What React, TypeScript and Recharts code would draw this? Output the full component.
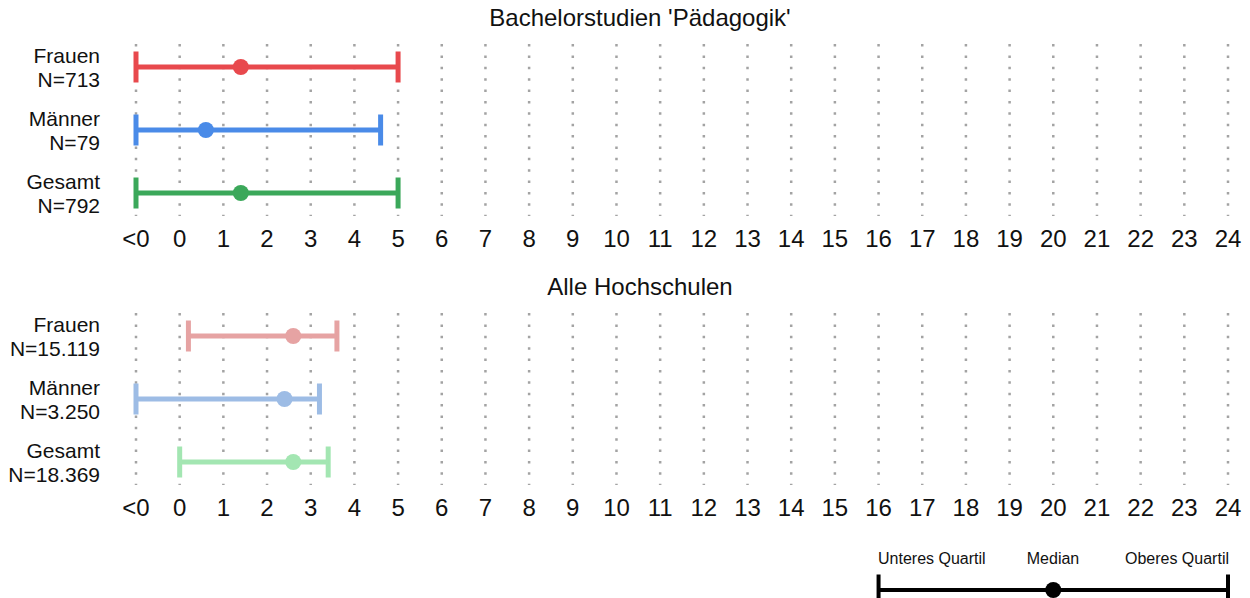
import React from "react";
import { ScatterChart, Scatter, XAxis, YAxis, CartesianGrid, ErrorBar } from "recharts";

const groups = ["Frauen", "Männer", "Gesamt"];
const topCounts = ["N=713", "N=79", "N=792"];
const bottomCounts = ["N=15.119", "N=3.250", "N=18.369"];

const topLow = [-1, -1, -1];
const topMedian = [1.4, 0.6, 1.4];
const topHigh = [5, 4.6, 5];

const bottomLow = [0.2, -1, 0];
const bottomMedian = [2.6, 2.4, 2.6];
const bottomHigh = [3.6, 3.2, 3.4];

const xTicks = [-1, 0, 1, 2, 3, 4, 5, 6, 7, 8, 9, 10, 11, 12, 13, 14, 15, 16, 17, 18, 19, 20, 21, 22, 23, 24];
const xTickLabels = ["<0", "0", "1", "2", "3", "4", "5", "6", "7", "8", "9", "10", "11", "12", "13", "14", "15", "16", "17", "18", "19", "20", "21", "22", "23", "24"];

const topColors = ["#E8494D", "#4A8BE8", "#3BA85A"];
const bottomColors = ["#E6A3A3", "#9DBCE5", "#A3E6B2"];

const titles = ["Bachelorstudien 'Pädagogik'", "Alle Hochschulen"];

const legendLabels = ["Unteres Quartil", "Median", "Oberes Quartil"];
const legendLow = [16];
const legendMedian = [20];
const legendHigh = [24];

const FONT = "'Liberation Sans', Arial, Helvetica, sans-serif";
const TEXT = "#111";

const XTick = (props: any) => {
  const { x, y, payload } = props;
  const idx = xTicks.indexOf(payload.value);
  return (
    <text x={x} y={y} dy={31} textAnchor="middle" fontSize={24} fill={TEXT} fontFamily={FONT}>
      {xTickLabels[idx]}
    </text>
  );
};

const makeYTick = (counts: string[]) => (props: any) => {
  const { x, y, payload } = props;
  const i = Math.round(payload.value) - 1;
  const tx = x - 36;
  return (
    <text x={tx} y={y} textAnchor="end" fontSize={21} fill={TEXT} fontFamily={FONT}>
      <tspan x={tx} dy={-4}>{groups[i]}</tspan>
      <tspan x={tx} dy={24}>{counts[i]}</tspan>
    </text>
  );
};

function Panel(props: {
  top: number;
  title: string;
  counts: string[];
  low: number[];
  median: number[];
  high: number[];
  colors: string[];
}) {
  const { top, title, counts, low, median, high, colors } = props;
  const series = groups.map((_, i) => [
    { x: median[i], y: i + 1, err: [median[i] - low[i], high[i] - median[i]] },
  ]);
  return (
    <div style={{ position: "absolute", left: 0, top, width: 1250, height: 260 }}>
      <div
        style={{
          position: "absolute",
          left: 0,
          top: 5.5,
          width: 1280,
          textAlign: "center",
          fontSize: 24,
          lineHeight: "24px",
          color: TEXT,
          fontFamily: FONT,
          whiteSpace: "nowrap",
        }}
      >
        {title}
      </div>
      <ScatterChart width={1250} height={260} margin={{ top: 44, right: 22, bottom: 4, left: 0 }}>
        <CartesianGrid
          horizontal={false}
          vertical={true}
          stroke="#a3a3a3"
          strokeWidth={2.5}
          strokeDasharray="2.5 8.88"
        />
        <XAxis
          type="number"
          dataKey="x"
          domain={[-1, 24]}
          ticks={xTicks}
          interval={0}
          axisLine={false}
          tickLine={false}
          tickSize={0}
          tickMargin={0}
          height={40}
          tick={<XTick />}
          allowDataOverflow
        />
        <YAxis
          type="number"
          dataKey="y"
          domain={[0.635, 3.365]}
          reversed
          ticks={[1, 2, 3]}
          interval={0}
          axisLine={false}
          tickLine={false}
          tickSize={0}
          tickMargin={0}
          width={136}
          tick={makeYTick(counts)}
          allowDataOverflow
        />
        {series.map((d, i) => (
          <Scatter
            key={groups[i]}
            name={groups[i]}
            data={d}
            fill={colors[i]}
            isAnimationActive={false}
            shape={(p: any) => <circle cx={p.cx} cy={p.cy} r={8} fill={colors[i]} />}
          >
            <ErrorBar
              dataKey="err"
              direction="x"
              width={15.5}
              strokeWidth={5}
              stroke={colors[i]}
              isAnimationActive={false}
            />
          </Scatter>
        ))}
      </ScatterChart>
    </div>
  );
}

function LegendKey() {
  const data = [
    { x: legendMedian[0], y: 1, err: [legendMedian[0] - legendLow[0], legendHigh[0] - legendMedian[0]] },
  ];
  const labelStyle: React.CSSProperties = {
    position: "absolute",
    top: 550.5,
    fontSize: 16,
    lineHeight: "16px",
    color: TEXT,
    fontFamily: FONT,
    whiteSpace: "nowrap",
  };
  return (
    <>
      <div style={{ ...labelStyle, left: 878 }}>{legendLabels[0]}</div>
      <div style={{ ...labelStyle, left: 953, width: 200, textAlign: "center" }}>{legendLabels[1]}</div>
      <div style={{ ...labelStyle, right: 21, textAlign: "right" }}>{legendLabels[2]}</div>
      <div style={{ position: "absolute", left: 0, top: 540, width: 1250, height: 100 }}>
        <ScatterChart width={1250} height={100} margin={{ top: 0, right: 22, bottom: 0, left: 136 }}>
          <XAxis type="number" dataKey="x" domain={[-1, 24]} hide allowDataOverflow />
          <YAxis type="number" dataKey="y" domain={[0, 2]} hide />
          <Scatter
            data={data}
            fill="#000"
            isAnimationActive={false}
            shape={(p: any) => <circle cx={p.cx} cy={p.cy} r={8} fill="#000" />}
          >
            <ErrorBar dataKey="err" direction="x" width={15.5} strokeWidth={4} stroke="#000" isAnimationActive={false} />
          </Scatter>
        </ScatterChart>
      </div>
    </>
  );
}

export default function App() {
  return (
    <div
      style={{
        position: "absolute",
        left: 0,
        top: 0,
        width: 1250,
        height: 598,
        overflow: "hidden",
        background: "#fff",
        fontFamily: FONT,
      }}
    >
      <Panel
        top={0}
        title={titles[0]}
        counts={topCounts}
        low={topLow}
        median={topMedian}
        high={topHigh}
        colors={topColors}
      />
      <Panel
        top={269}
        title={titles[1]}
        counts={bottomCounts}
        low={bottomLow}
        median={bottomMedian}
        high={bottomHigh}
        colors={bottomColors}
      />
      <LegendKey />
    </div>
  );
}
